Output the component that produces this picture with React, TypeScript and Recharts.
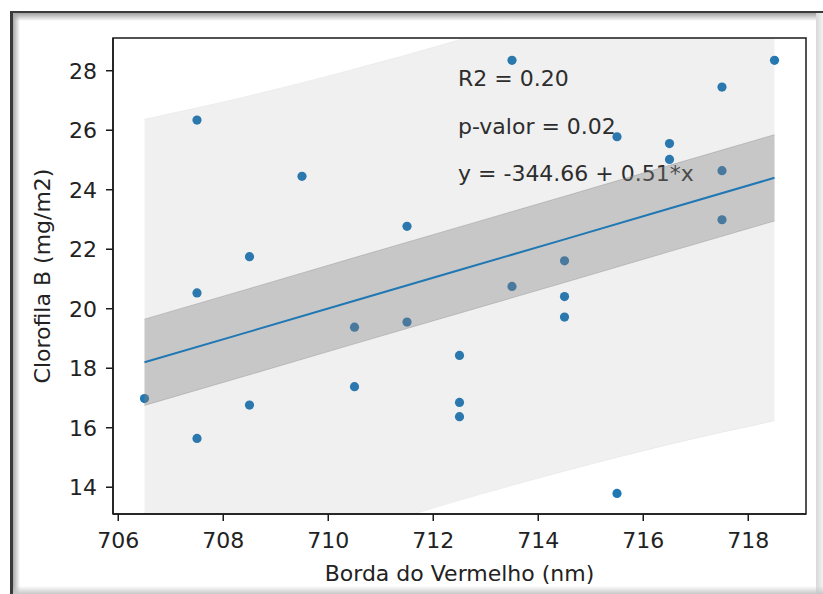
import React from 'react';
import { ComposedChart, Scatter, Line, Area, XAxis, YAxis, ReferenceArea } from 'recharts';

const FONT = '"DejaVu Sans", sans-serif';
const TEXT = '#222';
const BLUE = '#1f77b4';

// eixos
const xTicks = [706, 708, 710, 712, 714, 716, 718];
const yTicks = [14, 16, 18, 20, 22, 24, 26, 28];
const xDomain = [705.9, 719.1];
const yDomain = [13.1, 29.1];

// pontos observados
const pointX = [706.5, 707.5, 707.5, 707.5, 708.5, 708.5, 709.5, 710.5, 710.5, 711.5, 711.5, 712.5, 712.5, 712.5,
  713.5, 713.5, 714.5, 714.5, 714.5, 715.5, 715.5, 716.5, 716.5, 717.5, 717.5, 717.5, 718.5];
const pointY = [16.98, 26.34, 20.53, 15.64, 21.75, 16.76, 24.45, 19.38, 17.38, 22.77, 19.55, 18.43, 16.85, 16.37,
  28.35, 20.75, 21.61, 20.41, 19.72, 25.78, 13.79, 25.55, 25.02, 27.45, 24.64, 22.99, 28.35];

// reta ajustada e faixas (confiança / predição)
const fitX = [706.5, 708.5, 710.5, 712.5, 714.5, 716.5, 718.5];
const fitY = [18.2, 19.23, 20.27, 21.3, 22.33, 23.37, 24.4];
const ciLow = [16.75, 17.78, 18.82, 19.85, 20.88, 21.92, 22.95];
const ciHigh = [19.65, 20.68, 21.72, 22.75, 23.78, 24.82, 25.85];
const piLow = [10.03, 11.3, 12.48, 13.56, 14.54, 15.44, 16.23];
const piHigh = [26.37, 27.16, 28.06, 29.04, 30.12, 31.3, 32.57];

const annotations = ['R2 = 0.20', 'p-valor = 0.02', 'y = -344.66 + 0.51*x'];

const points = pointX.map((x, i) => ({ x, y: pointY[i] }));
const bands = fitX.map((x, i) => ({
  x,
  fit: fitY[i],
  ci: [ciLow[i], ciHigh[i]],
  pi: [piLow[i], piHigh[i]],
}));

const Dot = (props: any) => <circle cx={props.cx} cy={props.cy} r={4.6} fill={BLUE} />;

export default function App() {
  return (
    <div style={{ position: 'absolute', left: 0, top: 0, width: 823, height: 594, background: '#fff', overflow: 'hidden' }}>
      <ComposedChart width={823} height={594} data={bands} margin={{ top: 38, right: 17, bottom: 0, left: 0 }}>
        <XAxis
          dataKey="x"
          type="number"
          domain={xDomain}
          ticks={xTicks}
          allowDataOverflow
          height={80}
          tickSize={7}
          tickMargin={11}
          stroke="#1a1a1a"
          strokeWidth={1.5}
          tick={{ fontSize: 22, fill: TEXT, fontFamily: FONT }}
          label={{
            content: (p: any) => (
              <text x={p.viewBox.x + p.viewBox.width / 2} y={581} textAnchor="middle" fontSize={22} fontFamily={FONT} fill={TEXT}>
                Borda do Vermelho (nm)
              </text>
            ),
          }}
        />
        <YAxis
          type="number"
          domain={yDomain}
          ticks={yTicks}
          allowDataOverflow
          width={113}
          tickSize={7}
          tickMargin={9}
          stroke="#1a1a1a"
          strokeWidth={1.5}
          tick={{ fontSize: 22, fill: TEXT, fontFamily: FONT }}
          label={{
            content: (p: any) => {
              const cy = p.viewBox.y + p.viewBox.height / 2;
              return (
                <text x={50} y={cy} transform={`rotate(-90, 50, ${cy})`} textAnchor="middle" fontSize={22} fontFamily={FONT} fill={TEXT}>
                  Clorofila B (mg/m2)
                </text>
              );
            },
          }}
        />

        <Scatter data={points} dataKey="y" shape={Dot} isAnimationActive={false} zIndex={50} />
        <Area dataKey="pi" type="monotone" fill="#808080" fillOpacity={0.12} stroke="#808080" strokeOpacity={0.08} isAnimationActive={false} zIndex={100} />
        <Area dataKey="ci" type="linear" fill="#808080" fillOpacity={0.36} stroke="#808080" strokeOpacity={0.35} isAnimationActive={false} zIndex={110} />
        <Line dataKey="fit" type="linear" stroke={BLUE} strokeWidth={2} dot={false} activeDot={false} isAnimationActive={false} zIndex={400} />

        {/* contorno dos eixos (topo e direita) */}
        <ReferenceArea x1={xDomain[0]} x2={xDomain[1]} y1={yDomain[0]} y2={yDomain[1]} fill="none" stroke="#1a1a1a" strokeWidth={1.5} fillOpacity={0} />

        {annotations.map((t, i) => (
          <text key={t} x={458} y={86 + i * 47.5} fontSize={22} fontFamily={FONT} fill={TEXT}>
            {t}
          </text>
        ))}
      </ComposedChart>

      {/* moldura da captura de tela */}
      <div style={{ position: 'absolute', left: 10, top: 11, width: 813, height: 2, background: '#3a3a3a' }} />
      <div style={{ position: 'absolute', left: 13, top: 13, width: 810, height: 8, background: 'linear-gradient(#a0a0a0, rgba(255,255,255,0))' }} />
      <div style={{ position: 'absolute', left: 10, top: 11, width: 3, height: 583, background: '#3a3a3a' }} />
      <div style={{ position: 'absolute', left: 13, top: 13, width: 7, height: 581, background: 'linear-gradient(to right, #a8a8a8, rgba(255,255,255,0))' }} />
      <div style={{ position: 'absolute', left: 816, top: 13, width: 7, height: 581, background: 'linear-gradient(to right, #d8d8d8, #f2f2f2)' }} />
      <div style={{ position: 'absolute', left: 13, top: 586, width: 810, height: 8, background: 'linear-gradient(rgba(255,255,255,0), #c8c8c8)' }} />
    </div>
  );
}
